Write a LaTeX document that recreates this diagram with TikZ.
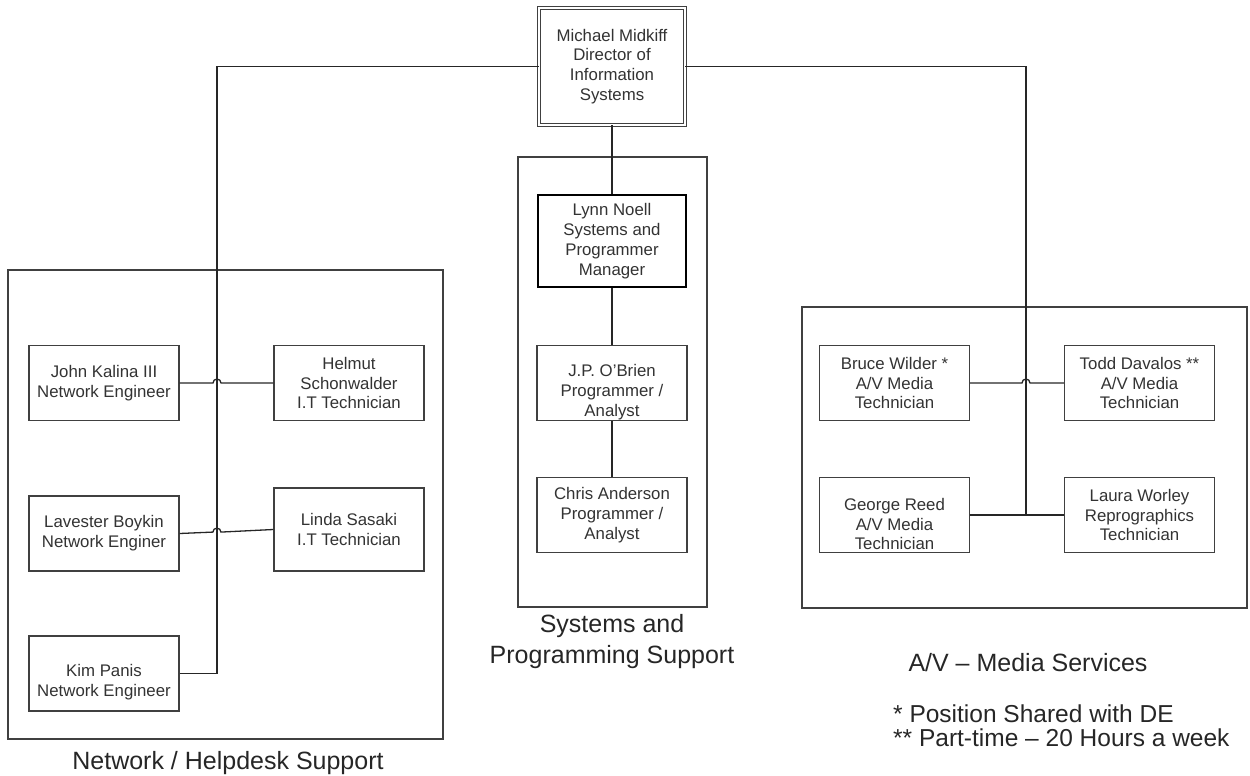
\documentclass[tikz,border=0pt]{standalone}
\usepackage{fontspec}
\setmainfont{Liberation Sans}
\usepackage{tikz}
\usetikzlibrary{calc}
\usetikzlibrary{positioning}
\tikzstyle{per}=[draw=black!75, line width=1.4pt, fill=white, rectangle, minimum width=150pt, minimum height=75pt, align=center, inner sep=2pt, text=black!80, font=\fontsize{16.8}{19.8}\selectfont]
\tikzstyle{mgr}=[per, draw=black, line width=2.4pt, minimum width=147.5pt, minimum height=91.5pt]
\tikzstyle{dir}=[per, draw=black!75, double, double distance=2.4pt, line width=1pt, minimum width=145.5pt, minimum height=116.5pt]
\tikzstyle{low}=[label={[align=center, text=black!80, font=\fontsize{16.8}{19.8}\selectfont, yshift=-9pt]center:#1}]
\tikzstyle{grp}=[draw=black!75, line width=1.3pt, rectangle, inner sep=0pt]
\tikzstyle{grplbl}=[align=center, inner sep=0pt, text=black!85, font=\fontsize{25}{31}\selectfont]
\tikzstyle{ln}=[draw=black!85, line width=1.3pt]
\def\nEng{Network Engineer}
\def\itT{I.T Technician}
\def\avT{A/V Media\\Technician}

\begin{document}
\begin{tikzpicture}[x=1pt, y=-1pt]
    %\draw [help lines] (0,0) grid[step=50] (1250,776);
    \useasboundingbox (0,0) rectangle (1250,776);

    % groups
    \node [grp, minimum width=435pt, minimum height=469pt] (NET) at (225.5,504.5) {};
    \node [grp, minimum width=189pt, minimum height=450pt] (SYS) at (612.5,382) {};
    \node [grp, minimum width=445pt, minimum height=301pt] (AV)  at (1024.5,457.5) {};
    \node [grplbl] (NETL) at (228,763) {Network / Helpdesk Support};
    \node [grplbl] (SYSL) at (612,642) {Systems and\\Programming Support};
    \node [grplbl] (AVL)  at (1028,663) {A/V -- Media Services};

    \node [dir] (MM) at (612,66.5) {Michael Midkiff\\Director of\\Information\\Systems};
    \node [mgr] (LN) at (612,241)  {Lynn Noell\\Systems and\\Programmer\\Manager};
    \node [per, low={J.P. O'Brien\\Programmer /\\Analyst}] (JP) at (612,383) {};
    \node [per] (CA) at (612,515)  {Chris Anderson\\Programmer /\\Analyst};

    \node [per] (JK) at (104,383)   {John Kalina III\\\nEng};
    \node [per] (HS) at (349,383)   {Helmut\\Schonwalder\\\itT};
    \node [per] (LB) at (104,533.5) {Lavester Boykin\\Network Enginer};
    \node [per, minimum height=83pt] (LS) at (349,529.5) {Linda Sasaki\\\itT};
    \node [per, low={Kim Panis\\\nEng}] (KP) at (104,673.5) {};

    \node [per] (BW) at (894.5,383)  {Bruce Wilder *\\\avT};
    \node [per] (TD) at (1139.5,383) {Todd Davalos **\\\avT};
    \node [per, low={George Reed\\\avT}] (GR) at (894.5,515) {};
    \node [per] (LW) at (1139.5,515) {Laura Worley\\Reprographics\\Technician};

    \coordinate (NB) at (217,400);
    \coordinate (AB) at (1026,515);

    \draw [ln] (MM.west) -| (NB) |- (KP.east);
    \draw [ln] (MM.east) -| (AB);
    \draw [ln] (MM.south) -- (LN.north);
    \draw [ln] (LN.south) -- (JP.north);
    \draw [ln] (JP.south) -- (CA.north);
    \draw [ln] (GR.east) -- (LW.west);
    \draw [ln] (JK.east) -- ($(JK.east -| NB)+(-4,0)$) arc[start angle=180, end angle=0, radius=4pt] -- (HS.west);
    \draw [ln] (LB.east) -- ($(LB.east)!0.355!(LS.west)$) arc[start angle=180, end angle=0, radius=4pt] -- (LS.west);
    \draw [ln] (BW.east) -- ($(BW.east -| AB)+(-4,0)$) arc[start angle=180, end angle=0, radius=4pt] -- (TD.west);

    \node [grplbl, align=left, anchor=west, font=\fontsize{24.5}{24}\selectfont] (NOTE) at (893,726) {* Position Shared with DE\\** Part-time -- 20 Hours a week};
\end{tikzpicture}
\end{document}
